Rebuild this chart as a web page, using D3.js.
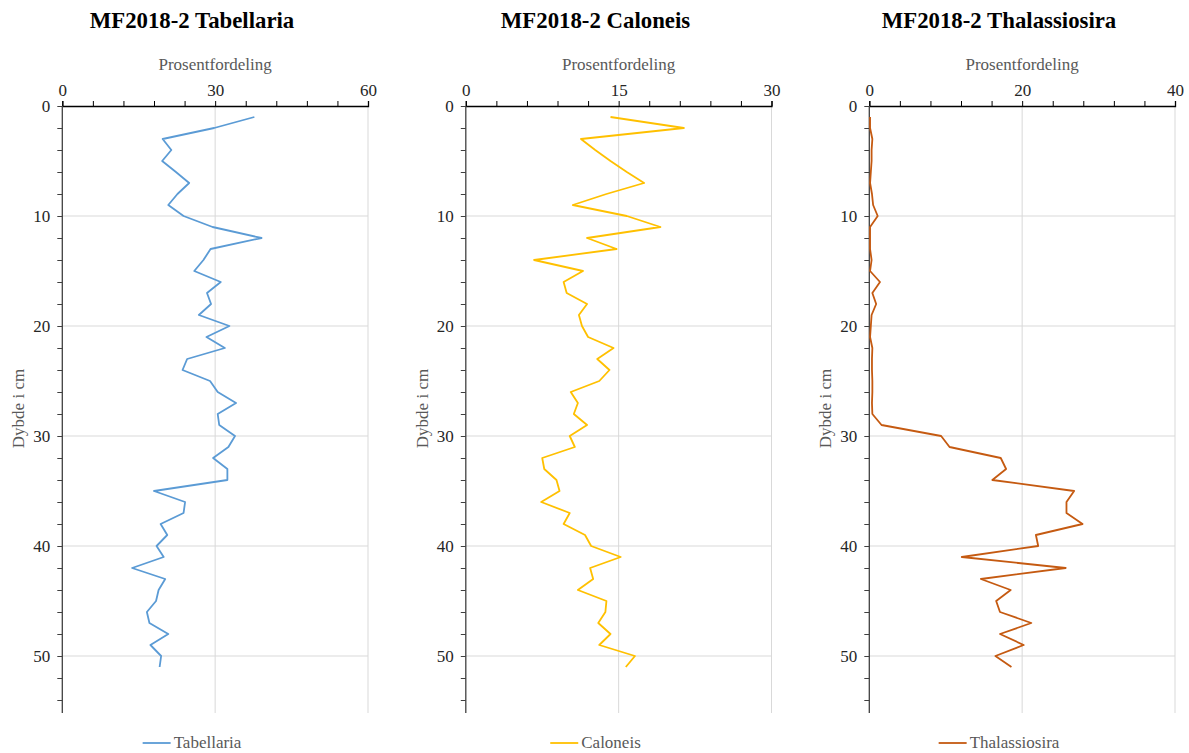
<!DOCTYPE html>
<html>
<head>
<meta charset="utf-8">
<script src="https://cdn.jsdelivr.net/npm/d3@7"></script>
<style>
  html, body { margin: 0; padding: 0; background: #fff; }
  svg { display: block; }
  text { font-family: "Liberation Serif", "Times New Roman", serif; }
</style>
</head>
<body>
<svg id="chart" width="1189" height="753"></svg>
<script>
// Sample depths (cm) in core MF2018-2
const depths = [1,2,3,4,5,6,7,8,9,10,11,12,13,14,15,16,17,18,19,20,21,22,23,24,25,26,27,28,29,30,31,32,33,34,35,36,37,38,39,40,41,42,43,44,45,46,47,48,49,50,51];

// Relative abundance (%) per taxon
const tabellaria = [37.7,29.8,19.7,21.4,19.6,22.3,24.9,22.6,20.8,23.8,29.5,39.1,29.1,27.7,25.9,31.1,28.4,29.2,26.8,32.8,28.3,31.9,24.5,23.6,29.0,30.5,34.1,30.5,30.8,33.9,32.6,29.6,32.4,32.4,18.0,24.1,23.8,19.3,20.6,18.5,19.9,13.7,20.2,18.9,18.4,16.6,17.1,20.8,17.3,19.4,19.1];
const caloneis = [14.2,21.4,11.3,12.7,14.2,15.8,17.5,13.8,10.5,15.8,19.1,11.9,14.8,6.7,11.5,9.6,9.9,11.9,11.1,11.4,12.0,14.5,12.9,14.1,13.1,10.3,11.0,10.6,11.9,10.2,10.7,7.5,7.7,8.9,9.2,7.4,10.2,9.6,11.7,12.3,15.2,12.2,12.5,11.0,13.8,13.7,13.0,14.2,13.1,16.6,15.7];
const thalassiosira = [0.1,0.1,0.4,0.3,0.3,0.2,0.1,0.35,0.5,1.1,0.1,0.1,0.1,0.3,0.1,1.4,0.4,0.9,0.3,0.2,0.1,0.4,0.35,0.35,0.4,0.4,0.35,0.4,1.6,9.4,10.5,17.2,17.9,16.1,26.8,25.8,25.8,27.9,21.8,22.1,12.1,25.7,14.6,18.5,16.6,17.1,21.2,17.1,20.2,16.5,18.6];

// Axis settings per panel
const xMaxima = [60, 30, 40];
const xMajorTicks = [[0,30,60],[0,15,30],[0,20,40]];
const yTicks = [0,10,20,30,40,50];
const yDomainMax = 55;

const panels = [
  { title: "MF2018-2 Tabellaria",    name: "Tabellaria",    values: tabellaria,    color: "#5B9BD5" },
  { title: "MF2018-2 Caloneis",      name: "Caloneis",      values: caloneis,      color: "#FFC000" },
  { title: "MF2018-2 Thalassiosira", name: "Thalassiosira", values: thalassiosira, color: "#C55A11" }
];

const svg = d3.select("#chart");
const panelStep = 403.5;
const plotLeft = 62.3, plotWidth = 305.7, plotTop = 106, plotBottom = 711;
const panelCenter = 192;
const smallFont = 17;

panels.forEach((p, i) => {
  const g = svg.append("g").attr("transform", `translate(${i * panelStep},0)`);
  const xMax = xMaxima[i];
  const x = d3.scaleLinear().domain([0, xMax]).range([plotLeft, plotLeft + plotWidth]);
  const y = d3.scaleLinear().domain([0, yDomainMax]).range([plotTop, plotBottom]);

  // gridlines
  g.append("g").selectAll("line").data(xMajorTicks[i].filter(v => v > 0)).join("line")
    .attr("x1", d => x(d)).attr("x2", d => x(d))
    .attr("y1", plotTop).attr("y2", plotBottom + 2)
    .attr("stroke", "#d9d9d9").attr("stroke-width", 1);
  g.append("g").selectAll("line").data(yTicks.filter(v => v > 0)).join("line")
    .attr("x1", plotLeft).attr("x2", plotLeft + plotWidth)
    .attr("y1", d => y(d)).attr("y2", d => y(d))
    .attr("stroke", "#d9d9d9").attr("stroke-width", 1);

  // top x axis: minor ticks at tenths of the range, labels at majors
  const xMinor = d3.range(0, 11).map(k => k * xMax / 10);
  const xAxis = d3.axisTop(x).tickValues(xMinor).tickSize(5)
    .tickFormat(d => xMajorTicks[i].includes(d) ? d : "");
  const gx = g.append("g").attr("transform", `translate(0,${plotTop})`).call(xAxis);
  gx.attr("font-family", null);
  gx.select(".domain").attr("stroke", "#000").attr("stroke-width", 1.3);
  gx.selectAll(".tick line").attr("stroke", "#000");
  gx.selectAll(".tick text").attr("font-size", smallFont).attr("fill", "#262626").attr("y", -10);

  // left y axis: minor ticks every 2 cm, labels every 10 cm
  const yMinor = Array.from(new Set(d3.range(0, yDomainMax + 1, 2).concat(yTicks))).sort((a, b) => a - b);
  const yAxis = d3.axisLeft(y).tickValues(yMinor).tickSize(5)
    .tickFormat(d => yTicks.includes(d) ? d : "");
  const gy = g.append("g").attr("transform", `translate(${plotLeft},0)`).call(yAxis);
  gy.attr("font-family", null);
  gy.select(".domain").attr("stroke", "#404040").attr("stroke-width", 1.3)
    .attr("d", `M0,${plotTop}V${plotBottom + 2}`);
  gy.selectAll(".tick line").attr("stroke", "#404040");
  gy.selectAll(".tick text").attr("font-size", smallFont).attr("fill", "#262626").attr("x", -12);

  // data line
  const line = d3.line().x(d => x(d.v)).y(d => y(d.d));
  g.append("path")
    .datum(depths.map((d, k) => ({ d, v: p.values[k] })))
    .attr("d", line)
    .attr("fill", "none").attr("stroke", p.color)
    .attr("stroke-width", 1.8).attr("stroke-linejoin", "round");

  // title
  g.append("text").attr("x", panelCenter).attr("y", 28)
    .attr("text-anchor", "middle").attr("font-size", 22.8).attr("font-weight", "bold")
    .attr("fill", "#000").text(p.title);

  // x axis title
  g.append("text").attr("x", plotLeft + plotWidth / 2).attr("y", 70)
    .attr("text-anchor", "middle").attr("font-size", smallFont).attr("fill", "#595959")
    .text("Prosentfordeling");

  // y axis title
  g.append("text")
    .attr("transform", `translate(24,${(plotTop + plotBottom) / 2}) rotate(-90)`)
    .attr("text-anchor", "middle").attr("font-size", smallFont).attr("fill", "#595959")
    .text("Dybde i cm");

  // legend
  const lg = g.append("g");
  const lt = lg.append("text").attr("y", 748).attr("font-size", smallFont).attr("fill", "#595959").text(p.name);
  const tw = lt.node().getComputedTextLength();
  const total = 28 + 3 + tw;
  const startX = panelCenter - total / 2;
  lg.append("line").attr("x1", startX).attr("x2", startX + 28)
    .attr("y1", 743).attr("y2", 743).attr("stroke", p.color).attr("stroke-width", 1.8);
  lt.attr("x", startX + 31);
});
</script>
</body>
</html>
